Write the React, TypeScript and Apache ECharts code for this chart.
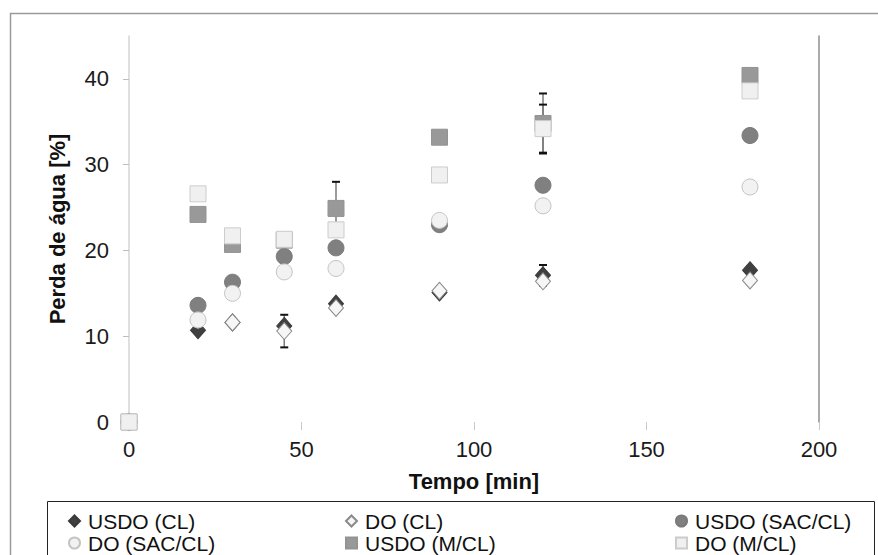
import React, { useEffect, useRef } from "react";
import * as echarts from "echarts";

const xTicks = [0, 50, 100, 150, 200];
const yTicks = [0, 10, 20, 30, 40];

const usdoCL = [[0, 0], [20, 10.7], [30, 11.6], [45, 11.2], [60, 13.8], [90, 15.1], [120, 17.1], [180, 17.7]];
const doCL = [[0, 0], [20, 11.9], [30, 11.6], [45, 10.6], [60, 13.3], [90, 15.3], [120, 16.4], [180, 16.5]];
const usdoSAC = [[0, 0], [20, 13.6], [30, 16.3], [45, 19.3], [60, 20.3], [90, 23.0], [120, 27.6], [180, 33.4]];
const doSAC = [[0, 0], [20, 11.9], [30, 15.0], [45, 17.5], [60, 17.9], [90, 23.5], [120, 25.2], [180, 27.4]];
const usdoMCL = [[0, 0], [20, 24.2], [30, 20.7], [45, 21.2], [60, 24.9], [90, 33.2], [120, 34.8], [180, 40.4]];
const doMCL = [[0, 0], [20, 26.6], [30, 21.7], [45, 21.3], [60, 22.4], [90, 28.8], [120, 34.2], [180, 38.6]];

// error bars: [x, ±error]
const errUsdoCL = [[120, 1.2]];
const errDoCL = [[45, 1.9]];
const errUsdoMCL = [[60, 3.1], [120, 3.5]];
const errDoMCL = [[120, 2.8]];

const names = ["USDO (CL)", "DO (CL)", "USDO (SAC/CL)", "DO (SAC/CL)", "USDO (M/CL)", "DO (M/CL)"];

const FONT = "'Liberation Sans', Arial, sans-serif";

function errItems(values: number[][], errs: number[][]) {
  return errs.map(([x, e]) => {
    const pt = values.find((p) => p[0] === x);
    const v = pt ? pt[1] : 0;
    return [x, v - e, v + e];
  });
}

export default function App() {
  const ref = useRef<HTMLDivElement>(null);
  useEffect(() => {
    if (!ref.current) return;
    const chart = echarts.init(ref.current, undefined, { renderer: "svg" });

    const errData = [
      ...errItems(usdoCL, errUsdoCL),
      ...errItems(doCL, errDoCL),
      ...errItems(usdoMCL, errUsdoMCL),
      ...errItems(doMCL, errDoMCL),
    ];

    const styles = [
      { symbol: "diamond", size: [15, 17], color: "#404040", border: "#3a3a3a" },
      { symbol: "diamond", size: [15, 17], color: "#f6f6f6", border: "#8a8a8a" },
      { symbol: "circle", size: 16, color: "#808080", border: "#7a7a7a" },
      { symbol: "circle", size: 16, color: "#f2f2f2", border: "#c4c4c4" },
      { symbol: "rect", size: 16, color: "#999999", border: "#939393" },
      { symbol: "rect", size: 16, color: "#f0f0f0", border: "#cccccc" },
    ];
    const datas = [usdoCL, doCL, usdoSAC, doSAC, usdoMCL, doMCL];

    const scatter = names.map((n, i) => ({
      name: n,
      type: "scatter",
      data: datas[i],
      symbol: styles[i].symbol,
      symbolSize: styles[i].size,
      itemStyle: { color: styles[i].color, borderColor: styles[i].border, borderWidth: 1, opacity: 1 },
      z: 3 + i,
      silent: true,
    }));

    const legendBase = {
      orient: "vertical",
      padding: 0,
      itemGap: 0,
      itemWidth: 11,
      itemHeight: 11,
      height: 80,
      selectedMode: false,
      textStyle: { fontFamily: FONT, fontSize: 21, color: "#111", lineHeight: 22, padding: [0, 0, 0, 3] },
    };

    chart.setOption({
      animation: false,
      backgroundColor: "#ffffff",
      textStyle: { fontFamily: FONT },
      grid: { left: 129, right: 59, top: 36, bottom: 133, outerBoundsMode: "none" },
      xAxis: {
        type: "value",
        min: 0,
        max: 200,
        interval: 50,
        name: "Tempo [min]",
        nameLocation: "middle",
        nameGap: 48,
        nameTextStyle: { fontFamily: FONT, fontSize: 22, fontWeight: "bold", color: "#111" },
        axisLine: { show: false },
        axisTick: { show: true, length: 8, lineStyle: { color: "#c8c8c8", width: 1 } },
        axisLabel: { fontFamily: FONT, fontSize: 22, color: "#1a1a1a", margin: 16, formatter: (v: number) => (xTicks.includes(v) ? String(v) : "") },
        splitLine: { show: false },
      },
      yAxis: [
        {
          type: "value",
          min: 0,
          max: 45,
          interval: 10,
          name: "Perda de água [%]",
          nameLocation: "middle",
          nameGap: 61,
          nameTextStyle: { fontFamily: FONT, fontSize: 22, fontWeight: "bold", color: "#111" },
          axisLine: { show: true, lineStyle: { color: "#d4d4d4", width: 1.5 } },
          axisTick: { show: true, length: 6, lineStyle: { color: "#bdbdbd" }, customValues: yTicks },
          axisLabel: { fontFamily: FONT, fontSize: 22, color: "#1a1a1a", margin: 20, customValues: yTicks },
          splitLine: { show: false },
        },
        {
          type: "value",
          min: 0,
          max: 45,
          position: "right",
          axisLine: { show: true, lineStyle: { color: "#8f8f8f", width: 1.5 } },
          axisTick: { show: false },
          axisLabel: { show: false },
          splitLine: { show: false },
        },
      ],
      legend: [
        { ...legendBase, left: 68, top: 510, data: [names[0], names[3]] },
        { ...legendBase, left: 345, top: 510, data: [names[1], names[4]] },
        { ...legendBase, left: 675, top: 510, data: [names[2], names[5]] },
      ],
      graphic: [
        {
          type: "rect",
          left: 8,
          top: 11,
          shape: { width: 900, height: 600 },
          style: { fill: "none", stroke: "#9a9a9a", lineWidth: 1.5 },
          silent: true,
          z: -10,
        },
        {
          type: "rect",
          left: 45,
          top: 499,
          shape: { width: 827, height: 80 },
          style: { fill: "none", stroke: "#222", lineWidth: 1 },
          silent: true,
        },
      ],
      series: [
        {
          type: "custom",
          name: "err",
          silent: true,
          z: 2,
          data: errData,
          encode: { x: 0, y: [1, 2] },
          renderItem: (params: any, api: any) => {
            const x = api.value(0);
            const lo = api.coord([x, api.value(1)]);
            const hi = api.coord([x, api.value(2)]);
            return {
              type: "group",
              children: [
                { type: "line", shape: { x1: hi[0], y1: hi[1], x2: lo[0], y2: lo[1] }, style: { stroke: "#7a7a7a", lineWidth: 1.5 } },
                { type: "line", shape: { x1: hi[0] - 4, y1: hi[1], x2: hi[0] + 4, y2: hi[1] }, style: { stroke: "#111", lineWidth: 2 } },
                { type: "line", shape: { x1: lo[0] - 4, y1: lo[1], x2: lo[0] + 4, y2: lo[1] }, style: { stroke: "#111", lineWidth: 2 } },
              ],
            };
          },
        },
        ...scatter,
      ],
    } as any);
    return () => chart.dispose();
  }, []);
  return <div ref={ref} style={{ position: "fixed", left: 0, top: 0, width: 878, height: 555 }} />;
}
